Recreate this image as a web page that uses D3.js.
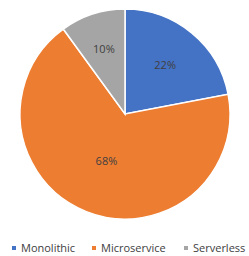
<!DOCTYPE html>
<html>
<head>
<meta charset="utf-8">
<script src="https://cdn.jsdelivr.net/npm/d3@7"></script>
<style>
  body { margin: 0; background: #fff; }
  text { font-family: "Open Sans", "Liberation Sans", sans-serif; fill: #404040; }
</style>
</head>
<body>
<div id="chart"></div>
<script>
// data
var categories = ['Monolithic', 'Microservice', 'Serverless'];
var values = [22, 68, 10];
var colors = ['#4472C4', '#ED7D31', '#A5A5A5'];

var width = 249, height = 256;
var cx = 125, cy = 114, radius = 105;

var svg = d3.select('#chart').append('svg')
    .attr('width', width)
    .attr('height', height);

var g = svg.append('g')
    .attr('transform', 'translate(' + cx + ',' + cy + ')');

var pie = d3.pie().sort(null).value(function(d) { return d; });
var arcs = pie(values);

var arc = d3.arc().innerRadius(0).outerRadius(radius);

// slices
g.selectAll('path.slice')
    .data(arcs)
    .enter().append('path')
    .attr('class', 'slice')
    .attr('d', arc)
    .attr('fill', function(d, i) { return colors[i]; })
    .attr('stroke', '#fff')
    .attr('stroke-width', 1.5);

// 標籤位置 (label radius fraction per slice, like excel best fit)
var labelFrac = [0.6, 0.48, 0.65];
g.selectAll('text.lbl')
    .data(arcs)
    .enter().append('text')
    .attr('class', 'lbl')
    .attr('transform', function(d, i) {
        var r = radius * labelFrac[i];
        var la = d3.arc().innerRadius(r).outerRadius(r);
        return 'translate(' + la.centroid(d) + ')';
    })
    .attr('text-anchor', 'middle')
    .attr('dy', '0.35em')
    .style('font-size', '11px')
    .text(function(d) { return d.data + '%'; });

// legend
var legendX = d3.scaleOrdinal().domain(categories).range([12, 92, 184]);
var legend = svg.append('g').attr('transform', 'translate(0,248)');
var item = legend.selectAll('g.item')
    .data(categories)
    .enter().append('g')
    .attr('class', 'item')
    .attr('transform', function(d) { return 'translate(' + legendX(d) + ',0)'; });
item.append('rect')
    .attr('x', 0).attr('y', -2)
    .attr('width', 4).attr('height', 4)
    .attr('fill', function(d, i) { return colors[i]; });
item.append('text')
    .attr('x', 9)
    .attr('dy', '0.35em')
    .style('font-size', '11px')
    .text(function(d) { return d; });
</script>
</body>
</html>
